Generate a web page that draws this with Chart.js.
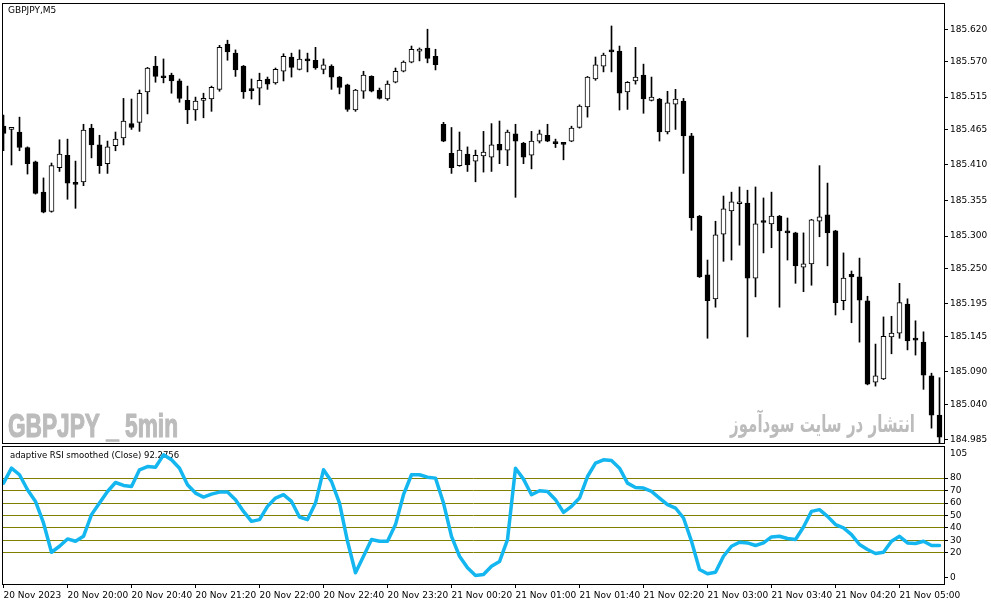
<!DOCTYPE html>
<html>
<head>
<meta charset="utf-8">
<script src="https://cdn.jsdelivr.net/npm/chart.js@4.4.1/dist/chart.umd.min.js"></script>
<style>
  html, body { margin: 0; padding: 0; background: #fff; }
  #wrap { position: relative; width: 991px; height: 605px; overflow: hidden; background: #fff; }
  canvas { position: absolute; left: 0; }
  #priceChart { top: -6px; }
  #rsiChart { top: 437px; }
</style>
</head>
<body>
<div id="wrap">
  <canvas id="priceChart" width="991" height="459"></canvas>
  <canvas id="rsiChart" width="991" height="168"></canvas>
</div>
<script>
// GBPJPY M5, one entry per bar (118 bars)
const openPrices = [
  185.470, 185.465, 185.461, 185.437, 185.415, 185.368, 185.338, 185.406, 185.425, 185.381,
  185.384, 185.467, 185.441, 185.412, 185.440, 185.452, 185.474, 185.476, 185.523, 185.563,
  185.546, 185.549, 185.540, 185.510, 185.495, 185.510, 185.512, 185.527, 185.597, 185.583,
  185.563, 185.526, 185.529, 185.543, 185.537, 185.555, 185.577, 185.558, 185.574, 185.572,
  185.558, 185.563, 185.546, 185.534, 185.495, 185.524, 185.547, 185.526, 185.512, 185.538,
  185.555, 185.569, 185.586, 185.591, 185.578, 185.473, 185.428, 185.409, 185.427, 185.416,
  185.424, 185.422, 185.442, 185.433, 185.458, 185.444, 185.425, 185.447, 185.456, 185.444,
  185.444, 185.447, 185.468, 185.500, 185.543, 185.563, 185.586, 185.586, 185.523, 185.540,
  185.549, 185.510, 185.512, 185.461, 185.504, 185.509, 185.455, 185.331, 185.240, 185.203,
  185.303, 185.339, 185.350, 185.351, 185.235, 185.322, 185.319, 185.331, 185.308, 185.305,
  185.252, 185.257, 185.323, 185.333, 185.308, 185.200, 185.241, 185.237, 185.200, 185.074,
  185.079, 185.144, 185.150, 185.195, 185.141, 185.136, 185.084, 185.023
];
const highPrices = [
  185.487, 185.467, 185.484, 185.438, 185.416, 185.390, 185.413, 185.449, 185.450, 185.416,
  185.473, 185.473, 185.456, 185.447, 185.461, 185.513, 185.512, 185.526, 185.561, 185.578,
  185.574, 185.552, 185.543, 185.532, 185.515, 185.521, 185.532, 185.595, 185.603, 185.588,
  185.564, 185.543, 185.552, 185.546, 185.560, 185.582, 185.583, 185.588, 185.583, 185.592,
  185.574, 185.565, 185.547, 185.535, 185.527, 185.555, 185.548, 185.529, 185.540, 185.560,
  185.571, 185.594, 185.591, 185.620, 185.589, 185.476, 185.468, 185.461, 185.438, 185.433,
  185.462, 185.474, 185.478, 185.464, 185.473, 185.445, 185.462, 185.464, 185.473, 185.450,
  185.445, 185.470, 185.503, 185.547, 185.577, 185.583, 185.625, 185.594, 185.539, 185.592,
  185.566, 185.546, 185.513, 185.524, 185.527, 185.513, 185.459, 185.332, 185.263, 185.323,
  185.362, 185.368, 185.376, 185.371, 185.376, 185.359, 185.368, 185.332, 185.328, 185.306,
  185.305, 185.326, 185.409, 185.382, 185.309, 185.274, 185.246, 185.266, 185.207, 185.133,
  185.175, 185.176, 185.227, 185.203, 185.169, 185.152, 185.088, 185.081
];
const lowPrices = [
  185.432, 185.410, 185.432, 185.396, 185.365, 185.336, 185.337, 185.400, 185.357, 185.343,
  185.378, 185.421, 185.397, 185.397, 185.432, 185.441, 185.465, 185.462, 185.489, 185.538,
  185.537, 185.521, 185.507, 185.474, 185.479, 185.483, 185.493, 185.524, 185.572, 185.547,
  185.513, 185.512, 185.503, 185.527, 185.535, 185.540, 185.546, 185.557, 185.554, 185.558,
  185.551, 185.527, 185.520, 185.493, 185.493, 185.513, 185.523, 185.512, 185.510, 185.537,
  185.554, 185.568, 185.571, 185.568, 185.557, 185.446, 185.397, 185.408, 185.400, 185.384,
  185.399, 185.400, 185.412, 185.409, 185.360, 185.412, 185.404, 185.444, 185.446, 185.437,
  185.418, 185.446, 185.467, 185.484, 185.541, 185.554, 185.554, 185.495, 185.496, 185.535,
  185.490, 185.509, 185.447, 185.458, 185.465, 185.397, 185.309, 185.236, 185.142, 185.190,
  185.261, 185.263, 185.286, 185.144, 185.206, 185.274, 185.282, 185.190, 185.263, 185.227,
  185.214, 185.224, 185.299, 185.254, 185.178, 185.186, 185.166, 185.136, 185.070, 185.068,
  185.078, 185.118, 185.142, 185.124, 185.116, 185.063, 185.003, 184.980
];
const closePrices = [
  185.459, 185.466, 185.437, 185.412, 185.366, 185.337, 185.409, 185.427, 185.382, 185.380,
  185.464, 185.441, 185.409, 185.438, 185.450, 185.478, 185.468, 185.521, 185.560, 185.547,
  185.545, 185.540, 185.513, 185.495, 185.509, 185.513, 185.530, 185.592, 185.585, 185.557,
  185.523, 185.525, 185.541, 185.535, 185.558, 185.578, 185.561, 185.574, 185.571, 185.560,
  185.565, 185.546, 185.530, 185.496, 185.526, 185.549, 185.524, 185.513, 185.535, 185.555,
  185.569, 185.589, 185.589, 185.575, 185.565, 185.447, 185.406, 185.433, 185.410, 185.425,
  185.430, 185.441, 185.433, 185.461, 185.447, 185.422, 185.447, 185.458, 185.447, 185.443,
  185.442, 185.467, 185.501, 185.546, 185.565, 185.580, 185.585, 185.521, 185.538, 185.546,
  185.512, 185.515, 185.461, 185.506, 185.512, 185.455, 185.328, 185.237, 185.200, 185.302,
  185.342, 185.353, 185.351, 185.235, 185.319, 185.321, 185.331, 185.308, 185.305, 185.254,
  185.257, 185.325, 185.330, 185.305, 185.197, 185.235, 185.237, 185.201, 185.071, 185.084,
  185.145, 185.150, 185.197, 185.138, 185.139, 185.085, 185.023, 184.989
];
// adaptive RSI smoothed, one value per bar
const rsiValues = [
  76, 88, 82.7, 70.7, 61.3, 44, 20.5, 25.3, 31.2, 29.3,
  33.3, 50.7, 60, 69.3, 76.5, 74.1, 73.3, 86.7, 89.3, 88.8,
  98.7, 94.7, 88, 74.7, 68, 64.8, 67.2, 68.8, 68.8, 62.7,
  53.3, 45.3, 46.7, 57.3, 64, 66.7, 61.3, 48.8, 46.7, 60,
  86.7, 77.3, 60, 29.3, 4, 17.3, 30.7, 29.3, 29.3, 42.7,
  66.7, 82.7, 82.7, 80.8, 80, 60, 33.3, 17.3, 8, 1.9,
  2.7, 9.3, 13, 30.7, 88, 79.2, 66.7, 69.9, 69.3, 62.7,
  52.5, 57.3, 64, 81.3, 92, 94.7, 94.1, 88, 76, 72.5,
  72, 69.3, 64, 58.7, 56, 48, 29.3, 6.7, 3.2, 4.5,
  17.3, 25.3, 28.5, 28, 25.9, 28, 32.8, 33.3, 31.5, 30.7,
  40.8, 53.3, 54.7, 49.3, 42.7, 40, 34.7, 26.7, 22.7, 19.5,
  20.5, 29.3, 33.3, 28, 27.5, 29.3, 25.9, 25.9
];

const priceTicks = [185.620, 185.570, 185.515, 185.465, 185.410, 185.355, 185.300,
  185.250, 185.195, 185.145, 185.090, 185.040, 184.985];
const rsiTicks = [80, 70, 60, 50, 40, 30, 20, 0];
const rsiLevels = [80, 70, 60, 50, 40, 30, 20];
const timeTickBars = [0, 8, 16, 24, 32, 40, 48, 56, 64, 72, 80, 88, 96, 104, 112];
const timeLabels = ['20 Nov 2023', '20 Nov 20:00', '20 Nov 20:40', '20 Nov 21:20',
  '20 Nov 22:00', '20 Nov 22:40', '20 Nov 23:20', '21 Nov 00:20', '21 Nov 01:00',
  '21 Nov 01:40', '21 Nov 02:20', '21 Nov 03:00', '21 Nov 03:40', '21 Nov 04:20',
  '21 Nov 05:00'];

const axisFont = { family: 'DejaVu Sans', size: 9 };
const barMin = -0.0625;
const barMax = 117.5625;

// black frame around each plot area
const framePlugin = {
  id: 'frame',
  afterDraw(chart) {
    const { ctx, chartArea: a } = chart;
    ctx.save();
    ctx.strokeStyle = '#000';
    ctx.lineWidth = 1;
    ctx.strokeRect(Math.round(a.left) - 0.5, Math.round(a.top) - 0.5,
      Math.round(a.right - a.left) + 1, Math.round(a.bottom - a.top) + 1);
    ctx.restore();
  }
};

// squeeze or stretch a text to a given width
const fitText = (ctx, text, x, y, width, align, stroke) => {
  const w = ctx.measureText(text).width;
  ctx.save();
  ctx.translate(x, y);
  ctx.scale(width / w, 1);
  ctx.textAlign = align;
  if (stroke) {
    ctx.lineWidth = stroke;
    ctx.lineJoin = 'round';
    ctx.strokeText(text, 0, 0);
  }
  ctx.fillText(text, 0, 0);
  ctx.restore();
};

const priceTextPlugin = {
  id: 'priceText',
  beforeDatasetsDraw(chart) {
    const ctx = chart.ctx;
    ctx.save();
    ctx.fillStyle = '#bcbcbc';
    ctx.strokeStyle = '#bcbcbc';
    ctx.textBaseline = 'alphabetic';
    ctx.font = 'bold 33px "Liberation Sans"';
    fitText(ctx, 'GBPJPY _ 5min', 8, 443, 170, 'left', 1.2);
    ctx.font = 'bold 24px "DejaVu Sans"';
    fitText(ctx, 'انتشار در سایت سودآموز', 915, 438, 185, 'right', 0);
    ctx.restore();
  },
  afterDraw(chart) {
    const ctx = chart.ctx;
    ctx.save();
    ctx.fillStyle = '#000';
    ctx.font = '9px "DejaVu Sans"';
    ctx.textBaseline = 'middle';
    ctx.fillText('GBPJPY,M5', 8, 17);
    ctx.restore();
  }
};

const rsiTextPlugin = {
  id: 'rsiText',
  beforeDatasetsDraw(chart) {
    const ctx = chart.ctx;
    const y = chart.scales.y;
    ctx.save();
    ctx.fillStyle = '#000';
    ctx.font = '8.5px "DejaVu Sans"';
    ctx.textBaseline = 'middle';
    ctx.fillText('adaptive RSI smoothed (Close) 92.2756', 10, 19);
    // scale maximum, written just under the top edge like the terminal does
    ctx.font = '9px "DejaVu Sans"';
    ctx.textBaseline = 'top';
    ctx.fillText(String(y.max), y.left + 6, y.getPixelForValue(y.max) + 2);
    ctx.restore();
  }
};

new Chart(document.getElementById('priceChart'), {
  type: 'bar',
  data: {
    datasets: [
      {
        label: 'body',
        data: openPrices.map((o, i) => ({ x: i, y: [o, closePrices[i]] })),
        backgroundColor: ctx => (closePrices[ctx.dataIndex] < openPrices[ctx.dataIndex] ? '#000' : '#fff'),
        borderColor: '#000',
        borderWidth: 1,
        borderSkipped: false,
        barThickness: 5,
        minBarLength: 2,
        grouped: false,
        order: 1,
      },
      {
        label: 'wick',
        data: lowPrices.map((l, i) => ({ x: i, y: [l, highPrices[i]] })),
        backgroundColor: '#000',
        borderWidth: 0,
        barThickness: 1,
        grouped: false,
        order: 2,
      },
    ],
  },
  options: {
    responsive: false,
    animation: false,
    devicePixelRatio: 1,
    events: [],
    layout: { padding: { left: 3, right: 0, top: 10, bottom: 10 } },
    plugins: { legend: { display: false }, tooltip: { enabled: false } },
    scales: {
      x: { type: 'linear', min: barMin, max: barMax, offset: false, display: false },
      y: {
        position: 'right',
        min: 184.980,
        max: 185.659,
        afterBuildTicks: axis => { axis.ticks = priceTicks.map(v => ({ value: v })); },
        afterFit: axis => { axis.width = 47; },
        ticks: {
          autoSkip: false,
          callback: v => v.toFixed(3),
          color: '#000',
          font: axisFont,
          padding: 2,
          crossAlign: 'near',
        },
        grid: { drawOnChartArea: false, drawTicks: true, tickLength: 4, color: '#000', tickColor: '#000' },
        border: { display: false },
      },
    },
  },
  plugins: [priceTextPlugin, framePlugin],
});

new Chart(document.getElementById('rsiChart'), {
  type: 'line',
  data: {
    datasets: [
      {
        label: 'adaptive RSI smoothed',
        data: rsiValues.map((v, i) => ({ x: i, y: v })),
        borderColor: '#14b6f0',
        borderWidth: 3.5,
        borderJoinStyle: 'round',
        borderCapStyle: 'round',
        pointRadius: 0,
        tension: 0,
      },
    ],
  },
  options: {
    responsive: false,
    animation: false,
    devicePixelRatio: 1,
    events: [],
    layout: { padding: { left: 3, right: 0, top: 10, bottom: 2 } },
    plugins: { legend: { display: false }, tooltip: { enabled: false } },
    scales: {
      x: {
        type: 'linear',
        min: barMin,
        max: barMax,
        afterBuildTicks: axis => { axis.ticks = timeTickBars.map(v => ({ value: v })); },
        afterFit: axis => { axis.height = 19; },
        ticks: {
          autoSkip: false,
          maxRotation: 0,
          minRotation: 0,
          align: 'start',
          padding: 2,
          color: '#000',
          font: axisFont,
          callback: (v, i) => timeLabels[i],
        },
        grid: { drawOnChartArea: false, drawTicks: true, tickLength: 4, color: '#000', tickColor: '#000' },
        border: { display: false },
      },
      y: {
        position: 'right',
        min: -5,
        max: 105,
        afterBuildTicks: axis => { axis.ticks = rsiTicks.map(v => ({ value: v })); },
        afterFit: axis => { axis.width = 47; },
        ticks: {
          autoSkip: false,
          callback: v => String(v),
          color: '#000',
          font: axisFont,
          padding: 2,
          crossAlign: 'near',
        },
        grid: {
          drawOnChartArea: true,
          drawTicks: true,
          tickLength: 4,
          color: ctx => (rsiLevels.includes(ctx.tick && ctx.tick.value) ? '#808000' : 'rgba(0,0,0,0)'),
          tickColor: '#000',
        },
        border: { display: false },
      },
    },
  },
  plugins: [rsiTextPlugin, framePlugin],
});
</script>
</body>
</html>
